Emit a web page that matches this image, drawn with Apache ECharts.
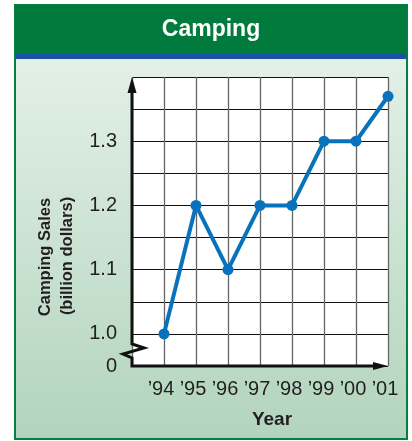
<!DOCTYPE html>
<html>
<head>
<meta charset="utf-8">
<title>Camping</title>
<script src="https://cdn.jsdelivr.net/npm/echarts@6/dist/echarts.min.js"></script>
<style>
  html, body { margin: 0; padding: 0; background: #fff; }
  #chart { width: 412px; height: 441px; }
</style>
</head>
<body>
<div id="chart"></div>
<script>
// Camping sales by year, in billions of dollars
const years = ['’94', '’95', '’96', '’97', '’98', '’99', '’00', '’01'];
const sales = [1.0, 1.2, 1.1, 1.2, 1.2, 1.3, 1.3, 1.37];
// labelled ticks on the sales axis (the lowest one sits at the break and reads "0")
const yLabelValues = [1.0, 1.1, 1.2, 1.3];
const yBreakValue = 0.95;
const yTop = 1.4;

const chart = echarts.init(document.getElementById('chart'), null, { renderer: 'canvas' });

const FONT = '"Liberation Sans", Arial, sans-serif';
const ink = '#231f20';

const option = {
  animation: false,
  backgroundColor: '#ffffff',
  grid: {
    left: 132, right: 24, top: 77, bottom: 75,
    show: true, backgroundColor: '#ffffff', borderWidth: 0
  },
  xAxis: {
    type: 'value', min: 0, max: years.length, interval: 1,
    axisLine: { show: false },
    axisTick: { show: false },
    splitLine: { show: true, lineStyle: { color: '#666666', width: 1.3 } },
    axisLabel: {
      margin: 13,
      fontFamily: FONT, fontSize: 20, color: ink,
      padding: [0, 6, 0, 0],
      formatter: v => (v >= 1 && v <= years.length) ? years[Math.round(v) - 1] : ''
    }
  },
  yAxis: {
    type: 'value', min: yBreakValue, max: yTop, interval: 0.05,
    axisLine: { show: false },
    axisTick: { show: false },
    splitLine: { show: true, lineStyle: { color: '#111111', width: 1.2 } },
    axisLabel: {
      margin: 15,
      fontFamily: FONT, fontSize: 20, color: ink,
      formatter: v => {
        if (Math.abs(v - yBreakValue) < 1e-6) return '0';
        const hit = yLabelValues.find(t => Math.abs(t - v) < 1e-6);
        return hit !== undefined ? hit.toFixed(1) : '';
      }
    }
  },
  series: [{
    type: 'line',
    data: sales.map((v, i) => [i + 1, v]),
    lineStyle: { color: '#0872bc', width: 4 },
    itemStyle: { color: '#0872bc' },
    symbol: 'circle',
    symbolSize: 11,
    z: 5
  }]
};

chart.setOption(option);

// Frame, header, axis arrows and the axis break, placed from the grid's own scale
const origin = chart.convertToPixel({ gridIndex: 0 }, [0, yBreakValue]);
const topLeft = chart.convertToPixel({ gridIndex: 0 }, [0, yTop]);
const rightEnd = chart.convertToPixel({ gridIndex: 0 }, [years.length, yBreakValue]);
const x0 = origin[0], yb = origin[1], yt = topLeft[1], xr = rightEnd[0];

const frame = { left: 15, top: 5, right: 407, bottom: 439 };

chart.setOption({
  graphic: [
    // panel background
    {
      type: 'rect', z: -20, silent: true,
      shape: { x: frame.left, y: frame.top, width: frame.right - frame.left, height: frame.bottom - frame.top },
      style: {
        fill: new echarts.graphic.LinearGradient(0, 0, 0, 1, [
          { offset: 0, color: '#eaf4ed' },
          { offset: 1, color: '#b2d4bd' }
        ]),
        stroke: '#0a7d3e', lineWidth: 2
      }
    },
    // header band
    {
      type: 'rect', z: -15, silent: true,
      shape: { x: frame.left, y: frame.top, width: frame.right - frame.left, height: 49 },
      style: { fill: '#007a3d' }
    },
    {
      type: 'rect', z: -15, silent: true,
      shape: { x: frame.left + 1, y: frame.top + 49, width: frame.right - frame.left - 2, height: 5 },
      style: { fill: '#1b51a3' }
    },
    {
      type: 'text', z: 10, silent: true,
      x: (frame.left + frame.right) / 2, y: 30,
      style: {
        text: 'Camping', fill: '#ffffff',
        font: 'bold 23px ' + FONT,
        align: 'center', verticalAlign: 'middle'
      }
    },
    // y axis with break
    {
      type: 'polyline', z: 20, silent: true,
      shape: {
        points: [
          [x0, yt + 12], [x0, yb - 22], [x0 + 12, yb - 18],
          [x0 - 9, yb - 12], [x0, yb - 8], [x0, yb], [xr - 12, yb]
        ]
      },
      style: { stroke: '#111111', lineWidth: 3, fill: null, lineJoin: 'miter' }
    },
    // y axis arrow head
    {
      type: 'polygon', z: 20, silent: true,
      shape: { points: [[x0, yt], [x0 - 4.5, yt + 16], [x0 + 4.5, yt + 16]] },
      style: { fill: '#111111' }
    },
    // x axis arrow head
    {
      type: 'polygon', z: 20, silent: true,
      shape: { points: [[xr, yb], [xr - 15, yb - 4], [xr - 15, yb + 4]] },
      style: { fill: '#111111' }
    },
    // axis titles
    {
      type: 'text', z: 10, silent: true,
      x: 45, y: 257, rotation: Math.PI / 2,
      style: {
        text: 'Camping Sales', fill: ink,
        font: 'bold 16.5px ' + FONT,
        align: 'center', verticalAlign: 'middle'
      }
    },
    {
      type: 'text', z: 10, silent: true,
      x: 67, y: 256, rotation: Math.PI / 2,
      style: {
        text: '(billion dollars)', fill: ink,
        font: 'bold 16.5px ' + FONT,
        align: 'center', verticalAlign: 'middle'
      }
    },
    {
      type: 'text', z: 10, silent: true,
      x: 272, y: 420,
      style: {
        text: 'Year', fill: ink,
        font: 'bold 19px ' + FONT,
        align: 'center', verticalAlign: 'middle'
      }
    }
  ]
});
</script>
</body>
</html>
